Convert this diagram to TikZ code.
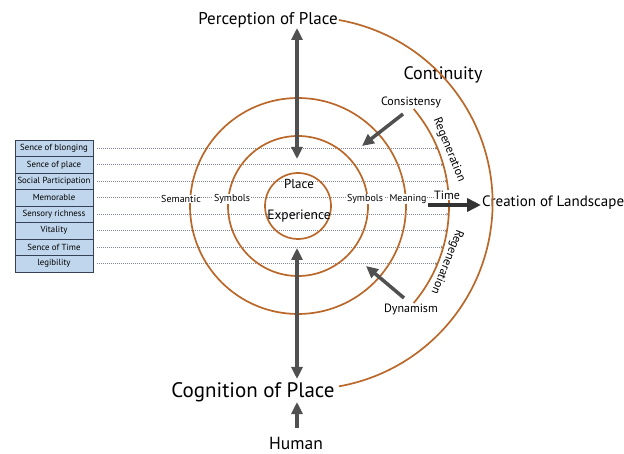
\documentclass[tikz,border=0pt]{standalone}
\usepackage{fontspec}
\setmainfont{PT Sans}
\usetikzlibrary{arrows.meta,calc}
\definecolor{ringc}{RGB}{186,104,42}
\definecolor{darr}{RGB}{80,80,80}
\definecolor{dotc}{RGB}{125,135,150}
\definecolor{boxfill}{RGB}{192,214,236}
\definecolor{boxline}{RGB}{55,65,85}
\begin{document}
\begin{tikzpicture}[x=1pt,y=-1pt,
  ringline/.style={draw=ringc,line width=1.7pt},
  dotline/.style={draw=dotc,line width=0.8pt,dash pattern=on 0.8pt off 1.2pt,-{Stealth[length=2.5pt,width=2.5pt]}},
  bigarrow/.style={draw=darr,line width=3.5pt,-{Triangle[width=11pt,length=12pt]}},
  dblarrow/.style={draw=darr,line width=3.5pt,{Triangle[width=11pt,length=12pt]}-{Triangle[width=11pt,length=12pt]}},
  timearrow/.style={draw=black!80,line width=4.5pt,-{Triangle[width=13pt,length=14pt]}},
  attrbox/.style={draw=boxline,fill=boxfill,line width=0.8pt,minimum width=78pt,minimum height=16.5pt,inner sep=0pt,font=\fontsize{8.8}{9}\selectfont},
  smalllab/.style={fill=white,inner sep=0.6pt,font=\fontsize{10}{11}\selectfont},
  midlab/.style={inner sep=1pt,font=\fontsize{12}{13}\selectfont},
  biglab/.style={inner sep=1pt}
]
\useasboundingbox (0,0) rectangle (624,454);
\coordinate (O) at (298,206);

% dotted rows and boxes
\foreach \t [count=\i] in {Sence of blonging,Sence of place,Social Participation,Memorable,Sensory richness,Vitality,Sence of Time,legibility}{
  \pgfmathsetmacro\yy{131.75+16.5*\i}
  \pgfmathsetmacro\xe{298+10*sqrt(228.01-((\yy-206)/10)^2)}
  \node[attrbox] (b\i) at (54,\yy) {\t};
  \coordinate (e\i) at (\xe,\yy);
  \draw[dotline] (b\i.east) ++(4,0) -- (e\i);
}

% rings
\draw[ringline] (O) circle[radius=33];
\draw[ringline] (O) circle[radius=70];
\draw[ringline] (O) circle[radius=108];
\draw[ringline] ($(O)+(-40:151)$) arc[start angle=-40,end angle=40,radius=151];

% labels on row
\node[smalllab] (sem) at (181,199) {Semantic};
\node[smalllab] (sym1) at (232,199) {Symbols};
\node[smalllab] (sym2) at (365,199) {Symbols};
\node[smalllab] (mean) at (408,199) {Meaning};

\node[inner sep=1pt,font=\fontsize{13}{14}\selectfont] (place) at (299,184) {Place};
\node[inner sep=1pt,font=\fontsize{13.5}{15}\selectfont] (exp) at (299,216) {Experience};

% big text
\node[biglab,font=\fontsize{17}{19}\selectfont] (perc) at (268,20) {Perception of Place};
\node[biglab,font=\fontsize{21}{23}\selectfont] (cog) at (253,392) {Cognition of Place};
\node[biglab,font=\fontsize{17.5}{19}\selectfont] (human) at (296,443) {Human};
\node[biglab,font=\fontsize{18}{20}\selectfont] (cont) at (443,75) {Continuity};
\node[biglab,font=\fontsize{15}{17}\selectfont,anchor=west] (land) at (481,203) {Creation of Landscape};

% outer arc
\draw[ringline] (perc.east) arc[start angle=-80,end angle=80,radius=186];

% regeneration labels
\node[midlab,rotate=-68] (reg1) at (449,150) {Regeneration};
\node[midlab,rotate=-112] (reg2) at (447,262) {Regeneration};

% consistency / dynamism
\node[midlab] (cons) at (411,102) {Consistensy};
\node[midlab] (dyn) at (411,309) {Dynamism};
\coordinate (cs0) at (403,114);
\coordinate (cs1) at (362,146);
\coordinate (dy0) at (404,298);
\coordinate (dy1) at (366,266);
\draw[bigarrow] (cs0) -- (cs1);
\draw[bigarrow] (dy0) -- (dy1);

% time arrow
\node[inner sep=0.5pt,fill=white,font=\fontsize{12}{13}\selectfont] (time) at (447,195) {Time};
\coordinate (t0) at (428,205);
\draw[timearrow] (t0) -- (land.west |- t0);

% vertical arrows
\coordinate (u1) at (297,28);
\coordinate (u2) at (297,159);
\coordinate (l1) at (297,248);
\coordinate (l2) at (297,379);
\coordinate (h1) at (297,428);
\coordinate (h2) at (297,402);
\draw[dblarrow] (u1) -- (u2);
\draw[dblarrow] (l1) -- (l2);
\draw[bigarrow] (h1) -- (h2);
\end{tikzpicture}
\end{document}
